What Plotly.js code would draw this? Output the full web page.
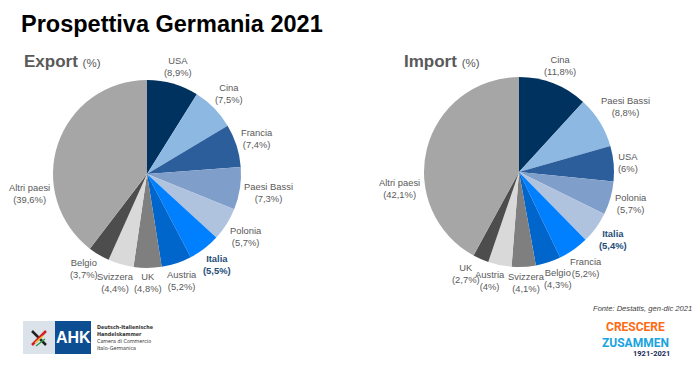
<!DOCTYPE html>
<html>
<head>
<meta charset="utf-8">
<script src="https://cdn.plot.ly/plotly-3.0.1.min.js"></script>
<style>html,body{margin:0;padding:0;background:#fff;}#chart{width:700px;height:365px;}</style>
</head>
<body>
<div id="chart"></div>
<script>
// ---- Data ----
var exportCountries = ["USA","Cina","Francia","Paesi Bassi","Polonia","Italia","Austria","UK","Svizzera","Belgio","Altri paesi"];
var exportValues    = [8.9, 7.5, 7.4, 7.3, 5.7, 5.5, 5.2, 4.8, 4.4, 3.7, 39.6];
var importCountries = ["Cina","Paesi Bassi","USA","Polonia","Italia","Francia","Belgio","Svizzera","Austria","UK","Altri paesi"];
var importValues    = [11.8, 8.8, 6, 5.7, 5.4, 5.2, 4.3, 4.1, 4, 2.7, 42.1];

// ---- Style ----
var sliceColors = ["#00325f","#8db8e2","#2d5e9c","#7f9ec9","#afc2de","#0080ff","#0066cc","#7f7f7f","#d9d9d9","#4d4d4d","#a6a6a6"];
var highlight = "Italia";
var exportNudge = {"Altri paesi": -28, "Belgio": 3};   // label angle shifts (degrees)
var importNudge = {"Altri paesi": -22, "UK": 4, "Belgio": -2, "Austria": 3, "Svizzera": -1};
var FONT = "Liberation Sans, Arial, sans-serif";
var W = 700, H = 365;
var LABEL_SIZE = 9.4;

function fmt(v){ return "(" + String(v).replace(".", ",") + "%)"; }
function px(x){ return x / W; }
function py(y){ return 1 - y / H; }

var ctx = document.createElement("canvas").getContext("2d");
function textWidth(s, bold){
  ctx.font = (bold ? "bold " : "") + LABEL_SIZE + "px 'Liberation Sans', Arial, sans-serif";
  return ctx.measureText(s).width;
}

// pie geometry in pixels (center + radius) -> plotly domain
var exportGeom = {cx: 147, cy: 174, r: 94};
var importGeom = {cx: 519, cy: 172, r: 95};
function domainOf(g){
  return {x: [px(g.cx - g.r), px(g.cx + g.r)], y: [py(g.cy + g.r), py(g.cy - g.r)]};
}

function pieTrace(names, vals, g){
  return {
    type: "pie", labels: names, values: vals, textinfo: "none",
    sort: false, direction: "clockwise", rotation: 0,
    marker: {colors: sliceColors, line: {width: 0}},
    domain: domainOf(g), automargin: false, hoverinfo: "none", showlegend: false
  };
}

// labels placed just outside each slice, at the slice's mid angle
function pieLabels(names, vals, g, nudge){
  var total = vals.reduce(function(a, b){ return a + b; }, 0);
  var cum = 0, out = [];
  names.forEach(function(n, i){
    var mid = (cum + vals[i] / 2) / total * 360;
    cum += vals[i];
    var ang = (mid + (nudge[n] || 0)) * Math.PI / 180;
    var isHi = n === highlight;
    var line2 = fmt(vals[i]);
    var w = Math.max(textWidth(n, isHi), textWidth(line2, isHi));
    var h = LABEL_SIZE * 2.3;
    var d = g.r + 3.5 + Math.abs(Math.sin(ang)) * w / 2 + Math.abs(Math.cos(ang)) * h / 2;
    var t = n + "<br>" + line2;
    out.push({
      text: isHi ? "<b>" + t + "</b>" : t,
      xref: "paper", yref: "paper",
      x: px(g.cx + d * Math.sin(ang)), y: py(g.cy - d * Math.cos(ang)),
      xanchor: "center", yanchor: "middle", align: "center", showarrow: false,
      borderpad: 0,
      font: {family: FONT, size: LABEL_SIZE, color: isHi ? "#1f4e79" : "#595959"}
    });
  });
  return out;
}

var traces = [
  pieTrace(exportCountries, exportValues, exportGeom),
  pieTrace(importCountries, importValues, importGeom)
];

var decor = [
  {text: "<b>Export</b> <span style='font-size:11.5px'>(%)</span>", xref: "paper", yref: "paper",
   x: px(22), y: py(62), xanchor: "left", yanchor: "middle", showarrow: false,
   font: {family: FONT, size: 17, color: "#595959"}},
  {text: "<b>Import</b> <span style='font-size:11.5px'>(%)</span>", xref: "paper", yref: "paper",
   x: px(402), y: py(62), xanchor: "left", yanchor: "middle", showarrow: false,
   font: {family: FONT, size: 17, color: "#595959"}},
  {text: "<i>Fonte: Destatis, gen-dic 2021</i>", xref: "paper", yref: "paper",
   x: px(694), y: py(308), xanchor: "right", yanchor: "middle", showarrow: false,
   font: {family: FONT, size: 7.6, color: "#404040"}},
  {text: "<b>AHK</b>", xref: "paper", yref: "paper",
   x: px(73), y: py(337), xanchor: "center", yanchor: "middle", showarrow: false,
   font: {family: FONT, size: 16, color: "#ffffff"}},
  {text: "<b>Deutsch-Italienische</b><br><b>Handelskammer</b><br>Camera di Commercio<br>Italo-Germanica", xref: "paper", yref: "paper",
   x: px(95), y: py(337), xanchor: "left", yanchor: "middle", align: "left", showarrow: false,
   font: {family: "DejaVu Sans Condensed, DejaVu Sans, sans-serif", size: 5.4, color: "#333333"}},
  {text: "<b><span style='color:#ff6a13'>CRESCERE</span><br><span style='color:#19a3e0'>ZUSAMMEN</span></b>", xref: "paper", yref: "paper",
   x: px(635), y: py(335), xanchor: "center", yanchor: "middle", showarrow: false,
   font: {family: "Roboto, sans-serif", size: 12, color: "#ff6a13"}},
  {text: "<b>1921-2021</b>", xref: "paper", yref: "paper",
   x: px(651), y: py(353), xanchor: "center", yanchor: "middle", showarrow: false,
   font: {family: "Roboto, sans-serif", size: 7.5, color: "#1b2a55"}}
];

var layout = {
  width: W, height: H,
  margin: {l: 0, r: 0, t: 0, b: 0},
  paper_bgcolor: "#ffffff", plot_bgcolor: "#ffffff",
  font: {family: FONT, color: "#595959"},
  title: {
    text: "<b>Prospettiva Germania 2021</b>",
    font: {family: FONT, size: 23.5, color: "#000000"},
    x: px(21), xanchor: "left", xref: "paper",
    y: py(24), yanchor: "middle", yref: "paper"
  },
  shapes: [
    {type: "rect", xref: "paper", yref: "paper", x0: px(23), x1: px(55), y0: py(354), y1: py(321), fillcolor: "#dbe2ea", line: {width: 0}},
    {type: "rect", xref: "paper", yref: "paper", x0: px(55), x1: px(91), y0: py(354), y1: py(321), fillcolor: "#0d4d92", line: {width: 0}},
    {type: "line", xref: "paper", yref: "paper", x0: px(32), y0: py(331), x1: px(46), y1: py(345), line: {color: "#222222", width: 2.5}},
    {type: "line", xref: "paper", yref: "paper", x0: px(46), y0: py(331), x1: px(32), y1: py(345), line: {color: "#d21f26", width: 2.5}},
    {type: "line", xref: "paper", yref: "paper", x0: px(35), y0: py(343), x1: px(43), y1: py(336), line: {color: "#f2c230", width: 1.5}},
    {type: "line", xref: "paper", yref: "paper", x0: px(36), y0: py(346), x1: px(45), y1: py(339), line: {color: "#2e9a45", width: 1.5}}
  ],
  annotations: pieLabels(exportCountries, exportValues, exportGeom, exportNudge)
    .concat(pieLabels(importCountries, importValues, importGeom, importNudge))
    .concat(decor)
};

Plotly.newPlot("chart", traces, layout, {displayModeBar: false, staticPlot: true});
</script>
</body>
</html>
